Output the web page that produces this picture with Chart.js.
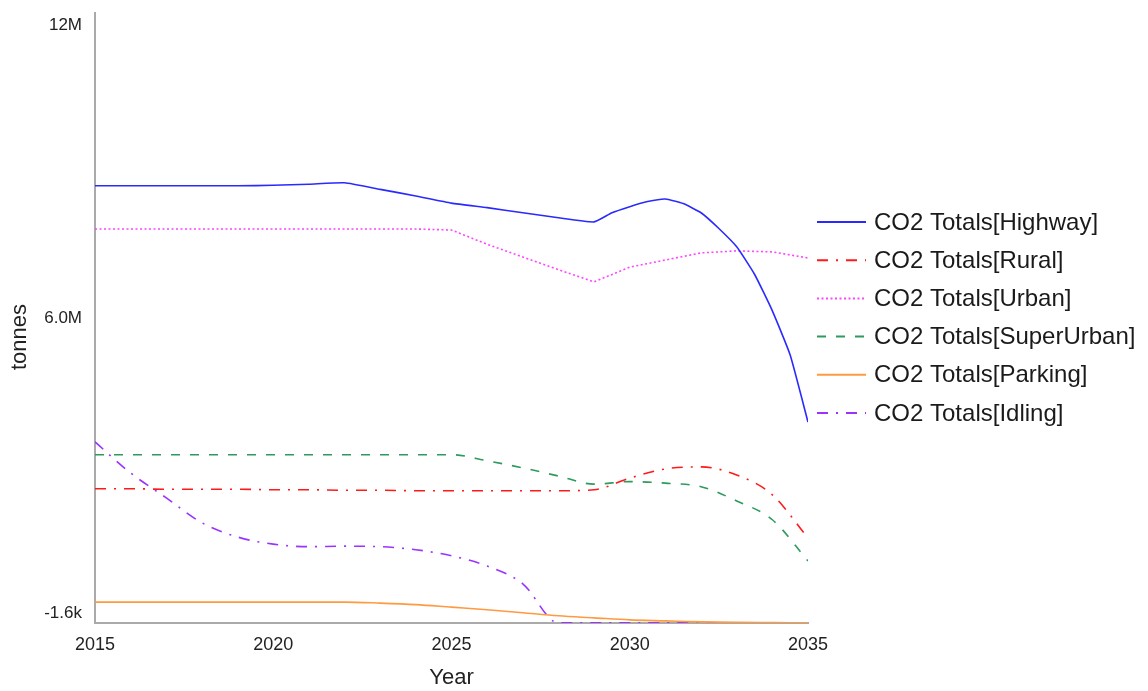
<!DOCTYPE html>
<html><head><meta charset="utf-8">
<script src="https://cdn.jsdelivr.net/npm/chart.js@4.4.0/dist/chart.umd.min.js"></script>
<style>html,body{margin:0;padding:0;background:#fff;} #wrap{width:1148px;height:691px;position:relative;}</style>
</head><body><div id="wrap"><canvas id="c" width="1148" height="691"></canvas></div>
<script>
// Years (x values)
const years = [2015,2016,2017,2018,2019,2020,2021,2022,2023,2024,2025,2026,2027,2028,2029,2030,2031,2032,2033,2034,2035];
// Highway is sampled a little finer where it bends sharply
const highwayYears = [2015,2016,2017,2018,2019,2020,2021,2022,2023,2024,2025,2026,2027,2028,2029,2029.5,2030,2030.5,2031,2031.5,2032,2032.5,2033,2033.5,2034,2034.5,2035];
// Series values, millions of tonnes
const highway    = [8.60,8.60,8.60,8.60,8.60,8.61,8.63,8.66,8.53,8.40,8.26,8.17,8.07,7.97,7.89,8.07,8.19,8.29,8.34,8.25,8.07,7.76,7.40,6.86,6.14,5.27,3.95];
const rural      = [2.64,2.64,2.63,2.63,2.63,2.62,2.62,2.61,2.61,2.60,2.60,2.60,2.60,2.60,2.62,2.85,3.03,3.07,2.91,2.52,1.67];
const urban      = [7.75,7.75,7.75,7.75,7.75,7.75,7.75,7.75,7.75,7.75,7.73,7.45,7.20,6.95,6.71,7.00,7.14,7.28,7.32,7.30,7.18];
const superUrban = [3.31,3.31,3.31,3.31,3.31,3.31,3.31,3.31,3.31,3.31,3.31,3.19,3.05,2.89,2.73,2.78,2.75,2.68,2.40,2.03,1.22];
const parking    = [0.41,0.41,0.41,0.41,0.41,0.41,0.41,0.41,0.39,0.36,0.31,0.26,0.20,0.14,0.10,0.06,0.04,0.02,0.01,0.005,0];
const idling     = [3.56,2.95,2.46,1.97,1.69,1.55,1.50,1.51,1.50,1.44,1.32,1.12,0.77,0,0,0,0,0,0,0,0];
const seriesNames = ['CO2 Totals[Highway]','CO2 Totals[Rural]','CO2 Totals[Urban]','CO2 Totals[SuperUrban]','CO2 Totals[Parking]','CO2 Totals[Idling]'];
// Tick labels
const yTickValues = [12, 6, -0.0016];
const yTickLabels = ['12M', '6.0M', '-1.6k'];
const xTickLabels = ['2015','2020','2025','2030','2035'];
const xTitle = 'Year';
const yTitle = 'tonnes';

const seriesData = [highway, rural, urban, superUrban, parking, idling];
const seriesYears = [highwayYears, years, years, years, years, years];
const colors = ['#2a2aff', '#ff1a1a', '#ff44ff', '#2e9a5e', '#ff9a40', '#9a33ff'];
const dashes = [[], [11,8,2,8], [2,2.5], [9,10], [], [11,8,2,8]];
const smooth = [0.15, 'm', 0, 'm', 'm', 'm'];

const FONT = '"Liberation Sans", Arial, sans-serif';

const datasets = seriesData.map((vals, i) => ({
  label: seriesNames[i],
  data: vals.map((v, j) => ({x: seriesYears[i][j], y: v})),
  borderColor: colors[i],
  backgroundColor: colors[i],
  borderWidth: 1.6,
  borderDash: dashes[i],
  pointRadius: 0,
  tension: smooth[i] === 'm' ? 0.4 : smooth[i],
  cubicInterpolationMode: smooth[i] === 'm' ? 'monotone' : 'default',
  fill: false
}));

const textPlugin = {
  id: 'axisText',
  afterDraw(chart) {
    const ctx = chart.ctx, ys = chart.scales.y;
    ctx.save();
    ctx.font = '17px ' + FONT;
    ctx.fillStyle = '#222';
    ctx.textAlign = 'right';
    ctx.textBaseline = 'middle';
    yTickValues.forEach((v, i) => {
      let py = ys.getPixelForValue(v);
      if (i === 0) py += 12;
      if (i === yTickLabels.length - 1) py -= 10;
      ctx.fillText(yTickLabels[i], 82, py);
    });
    // y axis title
    ctx.translate(20, 337);
    ctx.rotate(-Math.PI / 2);
    ctx.font = '22px ' + FONT;
    ctx.textAlign = 'center';
    ctx.fillText(yTitle, 0, 0);
    ctx.restore();
  }
};

const legendPlugin = {
  id: 'customLegend',
  afterDraw(chart) {
    const ctx = chart.ctx;
    const x0 = chart.chartArea.right + 9, lineW = 49, textX = x0 + 57;
    const startY = 222, step = 38.2;
    ctx.save();
    chart.data.datasets.forEach((ds, i) => {
      const y = startY + i * step;
      ctx.strokeStyle = ds.borderColor;
      ctx.lineWidth = 2;
      ctx.setLineDash(ds.borderDash);
      ctx.beginPath();
      ctx.moveTo(x0, y);
      ctx.lineTo(x0 + lineW, y);
      ctx.stroke();
      ctx.setLineDash([]);
      ctx.font = '24px ' + FONT;
      ctx.fillStyle = '#1a1a1a';
      ctx.textAlign = 'left';
      ctx.textBaseline = 'middle';
      ctx.fillText(ds.label, textX, y + 1);
    });
    ctx.restore();
  }
};

new Chart(document.getElementById('c'), {
  type: 'line',
  data: { datasets },
  plugins: [textPlugin, legendPlugin],
  options: {
    responsive: false,
    animation: false,
    devicePixelRatio: 1,
    layout: { padding: { top: 13, right: 340, bottom: 0, left: 0 } },
    plugins: { legend: { display: false }, tooltip: { enabled: false } },
    scales: {
      x: {
        type: 'linear', min: 2015, max: 2035,
        afterBuildTicks: s => { s.ticks = xTickLabels.map(t => ({ value: Number(t) })); },
        ticks: { font: { size: 18, family: FONT }, color: '#222', padding: 11, maxRotation: 0,
                 callback: (v) => String(v) },
        grid: { display: false, drawTicks: false },
        border: { color: '#aaaaaa', width: 2 },
        title: { display: true, text: xTitle, font: { size: 22, family: FONT }, color: '#222', padding: { top: 7, bottom: 0 } },
        afterFit: s => { s.height = 68; }
      },
      y: {
        type: 'linear', min: -0.0016, max: 12,
        ticks: { display: false },
        grid: { display: false, drawTicks: false },
        border: { color: '#aaaaaa', width: 2 },
        title: { display: false },
        afterFit: s => { s.width = 95; }
      }
    }
  }
});
</script></body></html>
